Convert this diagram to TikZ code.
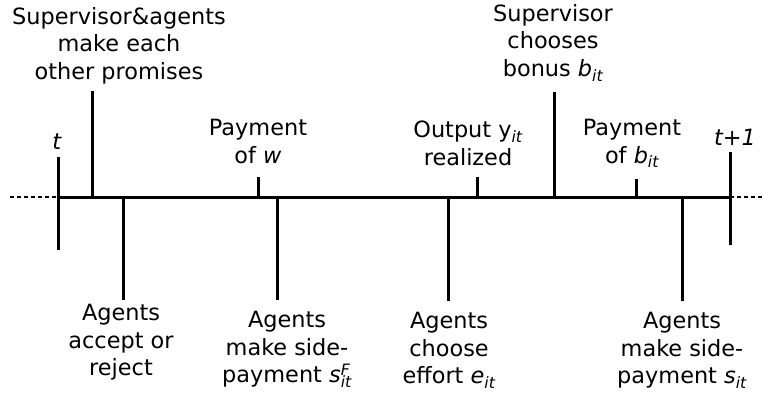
\documentclass[tikz,border=0pt]{standalone}
\usepackage{fontspec}
\setmainfont{DejaVu Sans}
\newcommand{\sfsub}[1]{\textsubscript{\itshape #1}}
\begin{document}
\begin{tikzpicture}[x=1pt,y=-1pt,
  lbl/.style={align=center,inner sep=0pt,anchor=north,font={\fontsize{22.4}{27.6}\selectfont}},
  tick/.style={line width=3pt},
  axisline/.style={line width=3pt},
  dots/.style={line width=2pt,dash pattern=on 4pt off 3pt}]
\useasboundingbox (0,0) rectangle (763,396);
% axis
\coordinate (L) at (58,197);
\coordinate (R) at (730,197);
\coordinate (Ld) at (10,197);
\coordinate (Rd) at (763,197);
\draw[axisline] (L) -- (R);
\draw[dots] (Ld) -- (L);
\draw[dots] (R) -- (Rd);
% ticks
\coordinate (t0a) at (58,157); \coordinate (t0b) at (58,250);
\draw[tick] (t0a) -- (t0b);
\coordinate (t1a) at (730,152); \coordinate (t1b) at (730,245);
\draw[tick] (t1a) -- (t1b);
\coordinate (sa1) at (92,91); \coordinate (sa2) at (92,197);
\draw[tick] (sa1) -- (sa2);
\coordinate (ac1) at (123,197); \coordinate (ac2) at (123,300);
\draw[tick] (ac1) -- (ac2);
\coordinate (pw1) at (258,177); \coordinate (pw2) at (258,197);
\draw[tick] (pw1) -- (pw2);
\coordinate (sf1) at (277,197); \coordinate (sf2) at (277,300);
\draw[tick] (sf1) -- (sf2);
\coordinate (ef1) at (448,197); \coordinate (ef2) at (448,301);
\draw[tick] (ef1) -- (ef2);
\coordinate (oy1) at (477,177); \coordinate (oy2) at (477,197);
\draw[tick] (oy1) -- (oy2);
\coordinate (sb1) at (554,92); \coordinate (sb2) at (554,197);
\draw[tick] (sb1) -- (sb2);
\coordinate (pb1) at (636,179); \coordinate (pb2) at (636,197);
\draw[tick] (pb1) -- (pb2);
\coordinate (sp1) at (682,197); \coordinate (sp2) at (682,301);
\draw[tick] (sp1) -- (sp2);
% labels above
\node[lbl] (tlab) at (57,134) {\textit{t}};
\node[lbl] (t1lab) at (735,129) {\textit{t+1}};
\node[lbl] (salab) at (119,7) {Supervisor\&agents\\make each\\other promises};
\node[lbl] (pwlab) at (258,119) {Payment\\of \textit{w}};
\node[lbl] (oylab) at (468,121) {Output y\sfsub{it}\\realized};
\node[lbl] (sblab) at (553,4) {Supervisor\\chooses\\bonus \textit{b}\sfsub{it}};
\node[lbl] (pblab) at (632,119) {Payment\\of \textit{b}\sfsub{it}};
% labels below
\node[lbl] (aclab) at (121,304) {Agents\\accept or\\reject};
\node[lbl] (sflab) at (287,311) {Agents\\make side-\\payment \textit{s}\rlap{\textsuperscript{\itshape F}}\sfsub{it}};
\node[lbl] (eflab) at (449,312) {Agents\\choose\\effort \textit{e}\sfsub{it}};
\node[lbl] (splab) at (682,312) {Agents\\make side-\\payment \textit{s}\sfsub{it}};
\end{tikzpicture}
\end{document}
